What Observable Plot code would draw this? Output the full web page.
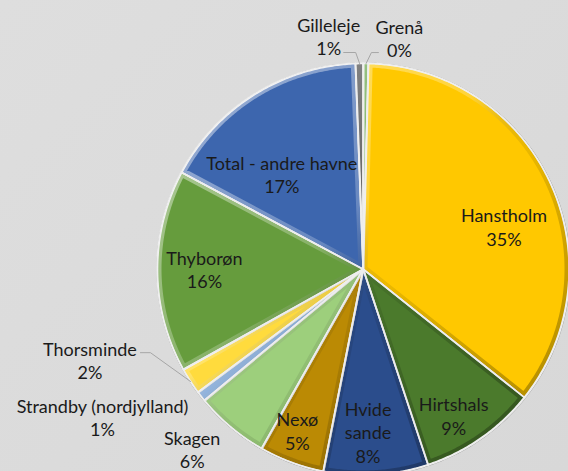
<!DOCTYPE html>
<html>
<head>
<meta charset="utf-8">
<script src="https://cdn.jsdelivr.net/npm/d3@7"></script>
<script src="https://cdn.jsdelivr.net/npm/@observablehq/plot@0.6"></script>
<style>
  html, body { margin: 0; padding: 0; overflow: hidden; }
  body { width: 568px; height: 471px; background: linear-gradient(135deg, #dedede 0%, #d8d8d8 100%); }
  #chart svg { display: block; }
</style>
</head>
<body>
<div id="chart"></div>
<script>
// ---- data (percent share of landings by harbour, clockwise from 12 o'clock) ----
const harbours = ["Grenå", "Hanstholm", "Hirtshals", "Hvide sande", "Nexø", "Skagen",
  "Strandby (nordjylland)", "Thorsminde", "Thyborøn", "Total - andre havne", "Gilleleje"];
const shares = [0.4, 35.3, 9.2, 8.2, 5.1, 5.8, 0.8, 2.1, 15.9, 16.6, 0.6];
const labelNames = ["Grenå", "Hanstholm", "Hirtshals", "Hvide\nsande", "Nexø", "Skagen",
  "Strandby (nordjylland)", "Thorsminde", "Thyborøn", "Total - andre havne", "Gilleleje"];

// ---- styling / layout ----
const sliceColors = ["#5c9e3a", "#ffc800", "#4b7a2c", "#2b4d8c", "#bb8a04", "#9dcf7c",
  "#8db3e2", "#ffdb3d", "#669c3d", "#3d66ae", "#3a3a3a"];
const labelShift = [8.1, 8.0, 3.2, 2.0, 2.0, 3.7, 8.7, 14.6, 0.7, -8.5, -7.4];
const labelRadius = [1.137, 0.713, 0.833, 0.789, 0.845, 1.205, 1.455, 1.399, 0.772, 0.61, 1.146];
const leaders = {"Gilleleje": [15, 16.5, 12], "Grenå": [-21, 14.5, -7], "Thorsminde": [50.5, -7.5, 10]};

const W = 568, H = 471, CX = 363, CY = 269, R = 206;
const FONT = "Lato, 'Liberation Sans', sans-serif";

const total = d3.sum(shares);
const pct = d3.format(".0%");
const arcs = d3.pie().sort(null).value(d => d)(shares);

const sliceFeatures = arcs.map((a, i) => {
  const n = Math.max(2, Math.ceil((a.endAngle - a.startAngle) / (Math.PI / 360)));
  const ring = [[0, 0]];
  for (let k = 0; k <= n; k++) {
    const t = a.startAngle + (a.endAngle - a.startAngle) * k / n;
    ring.push([Math.sin(t), Math.cos(t)]);
  }
  ring.push([0, 0]);
  return {type: "Feature", properties: {name: harbours[i]}, geometry: {type: "Polygon", coordinates: [ring]}};
});
const rimRing = d3.range(0, 361, 1).map(d => [Math.sin(d * Math.PI / 180), Math.cos(d * Math.PI / 180)]);
const disc = {type: "Feature", properties: {}, geometry: {type: "Polygon", coordinates: [rimRing]}};

const labels = arcs.map((a, i) => {
  const mid = (a.startAngle + a.endAngle) / 2 + labelShift[i] * Math.PI / 180;
  return {
    name: harbours[i],
    x: Math.sin(mid) * labelRadius[i],
    y: Math.cos(mid) * labelRadius[i],
    text: labelNames[i] + "\n" + pct(shares[i] / total),
    mid: (a.startAngle + a.endAngle) / 2
  };
});

const leaderPts = [];
labels.forEach(l => {
  const c = leaders[l.name];
  if (!c) return;
  const ax = l.x + c[0] / R, ay = l.y - c[1] / R;
  leaderPts.push({name: l.name, x: ax, y: ay});
  leaderPts.push({name: l.name, x: ax + c[2] / R, y: ay});
  leaderPts.push({name: l.name, x: Math.sin(l.mid), y: Math.cos(l.mid)});
});

const projection = d3.geoIdentity().reflectY(true).scale(R).translate([CX, CY]);

const chart = Plot.plot({
  width: W, height: H, margin: 0,
  projection,
  color: {domain: harbours, range: sliceColors},
  style: {background: "transparent", overflow: "hidden"},
  marks: [
    Plot.geo([disc], {fill: "#8a8a8a", stroke: "#8a8a8a", strokeWidth: 2, ariaLabel: "shadow"}),
    Plot.geo(sliceFeatures, {fill: d => d.properties.name, stroke: "#ececec",
      strokeWidth: 1.6, strokeLinejoin: "round", ariaLabel: "slices"}),
    Plot.line(leaderPts, {x: "x", y: "y", z: "name", stroke: "#a6a6a6", strokeWidth: 1, curve: "linear"}),
    Plot.text(labels, {x: "x", y: "y", text: "text", fontSize: 18, fontFamily: FONT,
      fill: "#1a1a1a", lineHeight: 1.3})
  ]
});

const svg = d3.select(chart);
const defs = svg.insert("defs", ":first-child");
const sh = defs.append("filter").attr("id", "shadowBlur").attr("x", "-20%").attr("y", "-20%").attr("width", "140%").attr("height", "140%");
sh.append("feGaussianBlur").attr("stdDeviation", 2.5);
svg.selectAll('g[aria-label="shadow"] path').attr("filter", "url(#shadowBlur)").attr("transform", "translate(1,2)");

// bevel-like inner edge shading, clipped to each slice
const grad = defs.append("linearGradient").attr("id", "edgeGrad").attr("gradientUnits", "userSpaceOnUse")
  .attr("x1", CX - R).attr("y1", CY - R).attr("x2", CX + R).attr("y2", CY + R);
[[0, "#ffffff", 0.55], [0.42, "#ffffff", 0.22], [0.55, "#000000", 0.08], [1, "#000000", 0.38]]
  .forEach(([o, c, a]) => grad.append("stop").attr("offset", o).attr("stop-color", c).attr("stop-opacity", a));

const colorSet = new Set(sliceColors.map(c => d3.color(c).formatHex()));
const slicePaths = Array.from(chart.querySelectorAll("path")).filter(p => {
  const f = p.getAttribute("fill");
  return f && d3.color(f) && colorSet.has(d3.color(f).formatHex());
});
if (slicePaths.length) {
  const host = slicePaths[0].parentNode;
  const overlay = document.createElementNS("http://www.w3.org/2000/svg", "g");
  host.parentNode.insertBefore(overlay, host.nextSibling);
  const ov = d3.select(overlay);
  slicePaths.forEach((p, i) => {
    const d = p.getAttribute("d");
    defs.append("clipPath").attr("id", "sliceClip" + i).append("path").attr("d", d);
    ov.append("path").attr("d", d).attr("fill", "none").attr("stroke", "url(#edgeGrad)")
      .attr("stroke-width", 9).attr("stroke-linejoin", "round").attr("clip-path", `url(#sliceClip${i})`);
  });
  slicePaths.forEach(p => {
    ov.append("path").attr("d", p.getAttribute("d")).attr("fill", "none")
      .attr("stroke", "#eeeeee").attr("stroke-width", 1.4).attr("stroke-linejoin", "round");
  });
}

document.getElementById("chart").appendChild(chart);
</script>
</body>
</html>
